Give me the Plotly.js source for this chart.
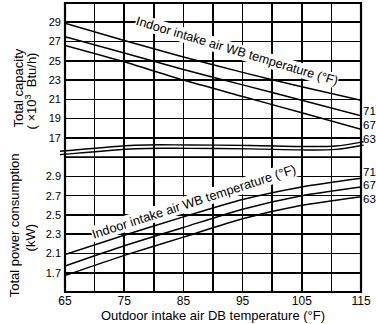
<!DOCTYPE html>
<html>
<head>
<meta charset="utf-8">
<script src="https://cdn.plot.ly/plotly-3.0.1.min.js"></script>
<style>html,body{margin:0;padding:0;background:#fff;}#chart{width:376px;height:324px;}</style>
</head>
<body>
<div id="chart"></div>
<script>
// ---- data ----
const outdoorDB = [65, 75, 85, 95, 105, 115];          // °F
const wbLabels = ['71', '67', '63'];                   // indoor intake WB °F
const cap71 = [28.9, 27.1, 25.4, 23.8, 22.3, 20.9];    // ×10^3 Btu/h
const cap67 = [27.5, 25.8, 24.1, 22.5, 20.9, 19.3];
const cap63 = [26.6, 24.9, 23.0, 21.3, 19.6, 17.9];
const pow71 = [2.09, 2.29, 2.48, 2.66, 2.79, 2.88];    // kW
const pow67 = [1.97, 2.18, 2.37, 2.56, 2.70, 2.79];
const pow63 = [1.87, 2.08, 2.27, 2.46, 2.60, 2.69];
const capTickVals = [17, 19, 21, 23, 25, 27, 29];
const capTickText = ['17', '19', '21', '23', '25', '27', '29'];
const powTickVals = [1.9, 2.1, 2.3, 2.5, 2.7, 2.9];
const powTickText = ['1.7', '2.1', '2.3', '2.5', '2.7', '2.9'];

const FONT = 'Liberation Sans, Arial, sans-serif';
const line = {color: '#000', width: 1.5, shape: 'spline', smoothing: 0.6};

const capSeries = [cap71, cap67, cap63];
const powSeries = [pow71, pow67, pow63];
const traces = [];
capSeries.forEach((s, i) => traces.push({x: outdoorDB, y: s, xaxis: 'x', yaxis: 'y', mode: 'lines', line, name: 'Capacity WB ' + wbLabels[i], hoverinfo: 'skip'}));
powSeries.forEach((s, i) => traces.push({x: outdoorDB, y: s, xaxis: 'x', yaxis: 'y2', mode: 'lines', line, name: 'Power WB ' + wbLabels[i], hoverinfo: 'skip'}));

// smooth path helper for the axis-break marks (paper coords)
function smoothPath(pts) {
  let d = 'M' + pts[0][0] + ',' + pts[0][1];
  for (let i = 0; i < pts.length - 1; i++) {
    const p0 = pts[i - 1] || pts[i], p1 = pts[i], p2 = pts[i + 1], p3 = pts[i + 2] || p2;
    const c1 = [p1[0] + (p2[0] - p0[0]) / 6, p1[1] + (p2[1] - p0[1]) / 6];
    const c2 = [p2[0] - (p3[0] - p1[0]) / 6, p2[1] - (p3[1] - p1[1]) / 6];
    d += ' C' + c1.join(',') + ' ' + c2.join(',') + ' ' + p2.join(',');
  }
  return d;
}
const breakX = [-0.017, 0.2365, 0.4223, 0.625, 0.794, 0.9155, 1.009];
const breakUpper = [0.4869, 0.5076, 0.5087, 0.5069, 0.5035, 0.5052, 0.5201];
const breakLower = breakUpper.map(v => v - 0.0118);

const shapes = [
  {type: 'path', xref: 'paper', yref: 'paper', path: smoothPath(breakX.map((x, i) => [x, breakUpper[i]])), line: {color: '#000', width: 1.4}, fillcolor: 'rgba(0,0,0,0)'},
  {type: 'path', xref: 'paper', yref: 'paper', path: smoothPath(breakX.map((x, i) => [x, breakLower[i]])), line: {color: '#000', width: 1.4}, fillcolor: 'rgba(0,0,0,0)'},
  {type: 'line', xref: 'paper', yref: 'paper', x0: 0, x1: 1, y0: 7 / 15, y1: 7 / 15, line: {color: '#000', width: 1.6}},
  {type: 'rect', xref: 'paper', yref: 'paper', x0: 0, x1: 1, y0: 0, y1: 1, line: {color: '#000', width: 2.2}, fillcolor: 'rgba(0,0,0,0)'}
];

const txt = (size) => ({family: FONT, size: size, color: '#000'});
const ann = (o) => Object.assign({xref: 'paper', yref: 'paper', showarrow: false, xanchor: 'center', yanchor: 'middle'}, o);
const annotations = [
  ann({x: 0.580, y: 0.834, text: 'Indoor intake air WB temperature (°F)', textangle: 16.8, bgcolor: '#fff', borderpad: 0, font: txt(12.6)}),
  ann({x: 0.436, y: 0.314, text: 'Indoor intake air WB temperature (°F)', textangle: -18, bgcolor: '#fff', borderpad: 0, font: txt(12.8)}),
  ann({x: -0.157, y: 0.706, text: 'Total capacity', textangle: -90, font: txt(13)}),
  ann({x: -0.116, y: 0.696, text: '( ×10<sup>3</sup>  Btu/h)', textangle: -90, font: txt(13)}),
  ann({x: -0.168, y: 0.232, text: 'Total power consumption', textangle: -90, font: txt(13)}),
  ann({x: -0.1166, y: 0.187, text: '(kW)', textangle: -90, font: txt(13)})
];
const capLabelY = [0.625, 0.577, 0.529];
const powLabelY = [0.416, 0.370, 0.322];
wbLabels.forEach((t, i) => {
  annotations.push(ann({x: 1.005, y: capLabelY[i], xanchor: 'left', text: t, font: txt(11.5), borderpad: 0}));
  annotations.push(ann({x: 1.005, y: powLabelY[i], xanchor: 'left', text: t, font: txt(11.5), borderpad: 0}));
});

const GW = 1.6;
const layout = {
  width: 376, height: 324,
  margin: {l: 65, r: 15, t: 3, b: 32},
  paper_bgcolor: '#fff', plot_bgcolor: '#fff',
  showlegend: false,
  font: {family: FONT, color: '#000'},
  xaxis: {
    anchor: 'y2', range: [65, 115], tickmode: 'linear', tick0: 65, dtick: 10,
    showgrid: true, gridcolor: '#000', gridwidth: GW, zeroline: false, showline: false, ticks: '',
    tickfont: txt(12),
    minor: {tickmode: 'linear', tick0: 65, dtick: 5, showgrid: true, gridcolor: '#000', gridwidth: GW, ticks: ''},
    title: {text: 'Outdoor intake air DB temperature (°F)', font: txt(13), standoff: 0}
  },
  yaxis: {
    domain: [7 / 15, 1], range: [15, 31], tickmode: 'array', tickvals: capTickVals, ticktext: capTickText,
    showgrid: true, gridcolor: '#000', gridwidth: GW, zeroline: false, showline: false, ticks: '',
    tickfont: txt(11), ticklabelstandoff: 3, anchor: 'x'
  },
  yaxis2: {
    domain: [0, 7 / 15], range: [1.7, 3.1], tickmode: 'array', tickvals: powTickVals, ticktext: powTickText,
    showgrid: true, gridcolor: '#000', gridwidth: GW, zeroline: false, showline: false, ticks: '',
    tickfont: txt(11), ticklabelstandoff: 3, anchor: 'x'
  },
  shapes, annotations
};
Plotly.newPlot('chart', traces, layout, {displayModeBar: false, staticPlot: true});
</script>
</body>
</html>
